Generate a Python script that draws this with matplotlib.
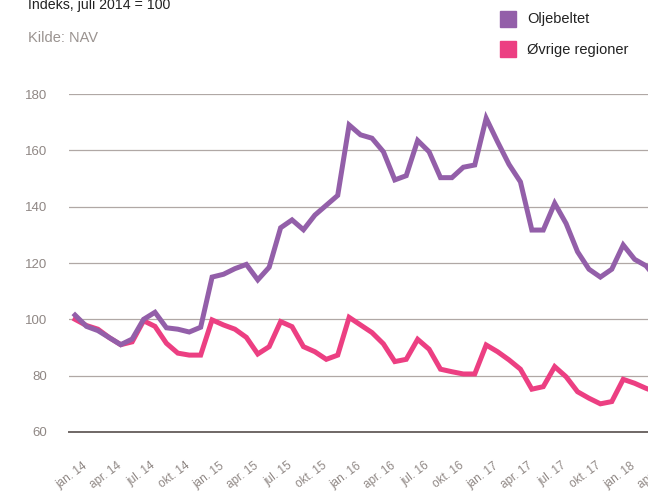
import numpy as np
import matplotlib
matplotlib.use("Agg")
from matplotlib import pyplot as plt
from matplotlib.patches import Rectangle
import matplotlib.transforms as mtransforms

# månedlige indekser, jan.14 -> apr.18
oljebeltet = [101.5, 97.5, 96, 93.5, 91, 93, 100, 102.5, 97, 96.5, 95.5, 97.2,
              115, 116, 118, 119.5, 114, 118.5, 132.5, 135.3, 131.8, 137, 140.5, 144,
              169, 165.5, 164.3, 159.5, 149.5, 151, 163.5, 159.5, 150.3, 150.3, 154, 154.8,
              171.4, 163, 155, 148.8, 131.7, 131.7, 141.2, 134, 124, 117.8, 115, 117.8,
              126.4, 121.3, 119, 114]
ovrige = [100, 97.8, 96.5, 93.5, 91, 92, 99.5, 97.5, 91.5, 88, 87.3, 87.3,
          99.8, 98, 96.5, 93.6, 87.7, 90.3, 99.2, 97.4, 90.3, 88.5, 85.8, 87.3,
          100.7, 98, 95.3, 91.3, 85, 85.8, 92.9, 89.4, 82.3, 81.4, 80.6, 80.6,
          90.9, 88.5, 85.6, 82.3, 75.2, 76.1, 83.2, 79.6, 74.3, 72, 70, 70.8,
          78.7, 77.3, 75.5, 74]
mnd = ["jan.", "apr.", "jul.", "okt."]
tick_labels = [f"{mnd[k % 4]} {14 + k // 4}" for k in range(18)]
y_ticks = [60, 80, 100, 120, 140, 160, 180]

lilla = "#935fa9"
rosa = "#ec3f82"
graa = "#8f8784"

plt.rcParams['font.family'] = ["Liberation Sans", "DejaVu Sans"]

fig = plt.figure(figsize=(6.48, 4.95), dpi=100)
W, H = 648., 495.
ppm = 11.42  # px per måned
x0 = -0.53
x1 = 53
ax = fig.add_axes([69 / W, 63 / H, (x1 - x0) * ppm / W, 338 / H])
ax.set_xlim(x0, x1)
ax.set_ylim(60, 180)

x = np.arange(len(oljebeltet))
ax.plot(x, ovrige, color=rosa, lw=3.6, solid_joinstyle='miter', zorder=3)
ax.plot(x, oljebeltet, color=lilla, lw=3.6, solid_joinstyle='miter', zorder=4)

for s in ["top", "right", "left"]:
    ax.spines[s].set_visible(False)
ax.spines["bottom"].set_color("#6f6866")
ax.spines["bottom"].set_linewidth(1.4)
ax.set_yticks(y_ticks)
ax.yaxis.grid(True, color="#b0a8a5", lw=0.9)
ax.set_axisbelow(True)
ax.tick_params(axis="y", length=0, pad=16, labelsize=9.5, labelcolor=graa)
ax.set_xticks(np.arange(0, 3 * len(tick_labels), 3))
ax.set_xticklabels(tick_labels, rotation=37, ha="right", rotation_mode="anchor")
ax.tick_params(axis="x", length=0, pad=20, labelsize=8.5, labelcolor=graa)
# flytt etikettene litt til høyre
off = mtransforms.ScaledTranslation(7 / 100, 0, fig.dpi_scale_trans)
for lab in ax.get_xticklabels():
    lab.set_transform(lab.get_transform() + off)

fig.text(28 / W, 1 - 5 / H, "Indeks, juli 2014 = 100", fontsize=10.2, color="#222222", va="center")
fig.text(28 / W, 1 - 38 / H, "Kilde: NAV", fontsize=10.5, color="#9a9390", va="center")

fig.patches.append(Rectangle((500 / W, 1 - 27 / H), 16 / W, 16 / H, color=lilla, transform=fig.transFigure))
fig.patches.append(Rectangle((500 / W, 1 - 57 / H), 16 / W, 16 / H, color=rosa, transform=fig.transFigure))
fig.text(527 / W, 1 - 19 / H, "Oljebeltet", fontsize=10.5, color="#222222", va="center")
fig.text(527 / W, 1 - 50 / H, "Øvrige regioner", fontsize=10.5, color="#222222", va="center")

fig.savefig("out.png", dpi=100)
